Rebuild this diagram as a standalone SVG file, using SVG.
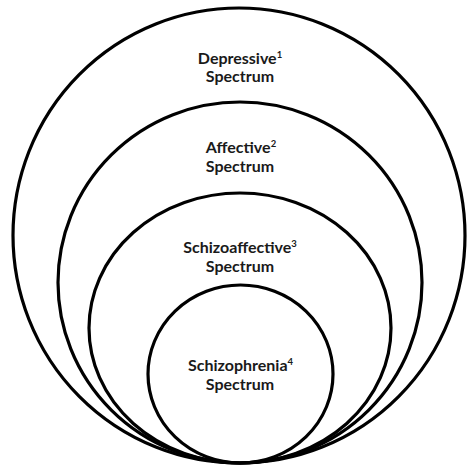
<svg xmlns="http://www.w3.org/2000/svg" width="468" height="465" viewBox="0 0 468 465">
<style>
.ring{fill:none;stroke:#000;stroke-width:3.2}
.lbl{font-family:Lato,"Liberation Sans",sans-serif;font-weight:bold;font-size:16px;fill:#1a1a1a;text-anchor:middle}
.sup{font-size:9.5px}
</style>
<rect width="468" height="465" fill="#fff"/>
<g id="depressive">
<ellipse class="ring" cx="239" cy="235.5" rx="226" ry="227.5"/>
<text class="lbl" x="240" y="63.5">Depressive<tspan class="sup" dy="-6">1</tspan></text>
<text class="lbl" x="240" y="81.7">Spectrum</text>
</g>
<g id="affective">
<ellipse class="ring" cx="240" cy="282.5" rx="182" ry="180.5"/>
<text class="lbl" x="241" y="153.3">Affective<tspan class="sup" dy="-6">2</tspan></text>
<text class="lbl" x="240" y="171.7">Spectrum</text>
</g>
<g id="schizoaffective">
<ellipse class="ring" cx="240" cy="328" rx="151" ry="135"/>
<text class="lbl" x="240" y="253.3">Schizoaffective<tspan class="sup" dy="-6">3</tspan></text>
<text class="lbl" x="240" y="271.7">Spectrum</text>
</g>
<g id="schizophrenia">
<ellipse class="ring" cx="240.5" cy="374" rx="92.5" ry="89"/>
<text class="lbl" x="240.5" y="370.7">Schizophrenia<tspan class="sup" dy="-6">4</tspan></text>
<text class="lbl" x="240" y="390">Spectrum</text>
</g>
<g id="connectors"/>
</svg>
